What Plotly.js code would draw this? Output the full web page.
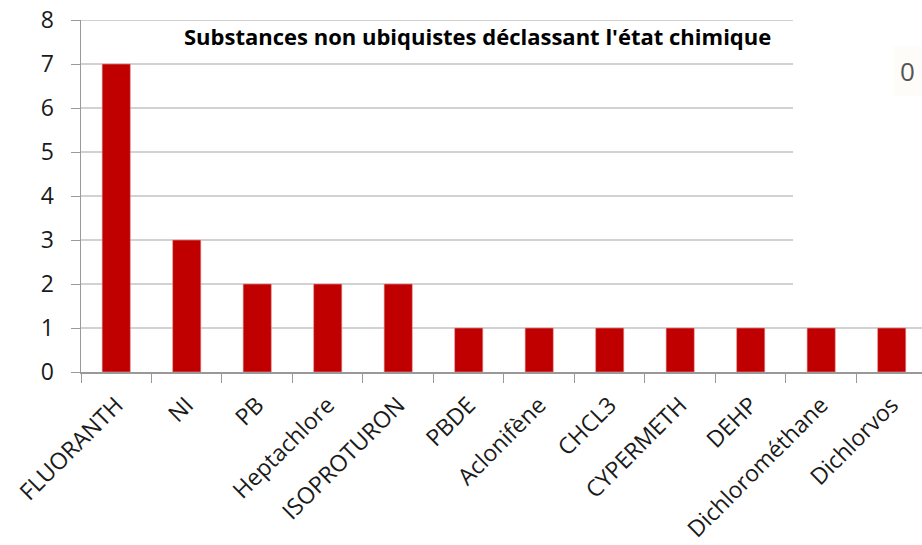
<!DOCTYPE html>
<html>
<head>
<meta charset="utf-8">
<script src="https://cdn.plot.ly/plotly-3.0.1.min.js"></script>
<style>html,body{margin:0;padding:0;background:#fff;}#chart{width:922px;height:545px;}</style>
</head>
<body>
<div id="chart"></div>
<script>
const categories = ["FLUORANTH","NI","PB","Heptachlore","ISOPROTURON","PBDE","Aclonifène","CHCL3","CYPERMETH","DEHP","Dichlorométhane","Dichlorvos"];
const counts = [7,3,2,2,2,1,1,1,1,1,1,1];
const yTicks = [0,1,2,3,4,5,6,7,8];
const chartTitle = "Substances non ubiquistes déclassant l'état chimique";

const FONT = "Open Sans, Noto Sans, sans-serif";

const trace = {
  type: 'bar',
  x: categories,
  y: counts,
  marker: {color: '#C00000', line: {color: '#E6A3A3', width: 0.6}},
  hoverinfo: 'skip'
};

// gridlines: the top ones are cut short in the reference picture
const gridShapes = yTicks.filter(v => v > 0).map(v => ({
  type: 'line', layer: 'below', xref: 'paper', yref: 'y',
  x0: 0, x1: v <= 1 ? 1 : 0.8466, y0: v, y1: v,
  line: {color: '#a6a6a6', width: 1.2}
}));

const layout = {
  width: 922, height: 545,
  margin: {l: 81, r: 0, t: 20, b: 173},
  paper_bgcolor: '#ffffff',
  plot_bgcolor: '#ffffff',
  bargap: 0.6,
  showlegend: false,
  xaxis: {
    type: 'category',
    range: [-0.5, 11.43],
    tickangle: -45,
    tickson: 'boundaries',
    ticks: 'outside', ticklen: 9, tickcolor: '#999999', tickwidth: 1,
    showline: true, linecolor: '#999999', linewidth: 1.5,
    showgrid: false,
    tickfont: {family: FONT, size: 23, color: '#1a1a1a'},
    ticklabelstandoff: 9,
    fixedrange: true
  },
  yaxis: {
    range: [0, 8],
    tickvals: yTicks,
    ticks: 'outside', ticklen: 9, tickcolor: '#999999', tickwidth: 1,
    showline: true, linecolor: '#999999', linewidth: 1.5,
    showgrid: false,
    zeroline: false,
    tickfont: {family: FONT, size: 23, color: '#1a1a1a'},
    ticklabelstandoff: 12,
    fixedrange: true
  },
  shapes: gridShapes,
  annotations: [
    {text: '<b>' + chartTitle + '</b>', xref: 'paper', yref: 'paper', x: 0.4717, y: 0.955,
     xanchor: 'center', yanchor: 'middle', showarrow: false,
     font: {family: FONT, size: 22, color: '#000000'}},
    {text: '0', xref: 'paper', yref: 'paper', x: 1.0, y: 0.855, xanchor: 'right', yanchor: 'middle',
     showarrow: false, bgcolor: '#fdfcf9', borderpad: 6,
     font: {family: FONT, size: 26, color: '#555555'}}
  ]
};

Plotly.newPlot('chart', [trace], layout, {displayModeBar: false, staticPlot: true});
</script>
</body>
</html>
